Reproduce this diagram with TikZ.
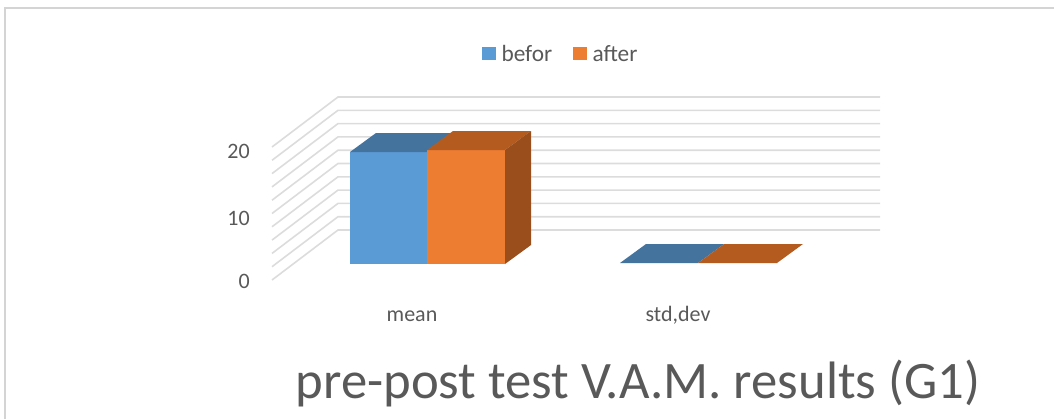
\documentclass[tikz,border=0pt]{standalone}
\usepackage{fontspec}
\setmainfont{Carlito}
\usetikzlibrary{positioning}

\definecolor{bluefront}{HTML}{5B9BD5}
\definecolor{bluetop}{HTML}{44739E}
\definecolor{orangefront}{HTML}{ED7D31}
\definecolor{orangetop}{HTML}{B45C20}
\definecolor{orangeside}{HTML}{994E1C}
\definecolor{gridgray}{HTML}{DCDCDC}
\definecolor{framegray}{HTML}{D4D4D4}
\definecolor{textgray}{HTML}{595959}

\begin{document}
\begin{tikzpicture}[
	x=0.75pt, y=-0.75pt,
	node distance=4pt,
	gridline/.style={draw=gridgray, line width=1.2pt},
	frameline/.style={draw=framegray, line width=1.6pt},
	ticklabel/.style={font=\fontsize{16.5}{19}\selectfont, text=textgray, anchor=east, inner sep=0pt},
	catlabel/.style={font=\fontsize{16.5}{19}\selectfont, text=textgray, anchor=base, inner sep=0pt},
	legendbox/.style={minimum size=10pt, inner sep=0pt},
	legendtext/.style={font=\fontsize{17.5}{20}\selectfont, text=textgray, inner sep=0pt},
	titletext/.style={font=\fontsize{39.5}{44}\selectfont, text=textgray, anchor=base, inner sep=0pt}
	]
	\useasboundingbox (0,0) rectangle (1054,419);
	
	% Frame
	\draw[frameline] (5,419) -- (5,8) -- (1054,8);
	
	% Grid (side wall and back wall)
	\foreach \k in {0,...,10}
		\draw[gridline] (272,{280-13.3*\k}) -- (338,{230-13.3*\k}) -- (880,{230-13.3*\k});
	
	% Bars: mean
	\fill[bluefront] (350,152) rectangle (427,264);
	\fill[bluetop] (350,152) -- (427,152) -- (453,133) -- (376,133) -- cycle;
	\fill[orangefront] (427,150) rectangle (505,264);
	\fill[orangetop] (427,150) -- (505,150) -- (531,131) -- (453,131) -- cycle;
	\fill[orangeside] (505,150) -- (531,131) -- (531,245) -- (505,264) -- cycle;
	
	% Bars: std,dev
	\fill[bluetop] (620,263) -- (698,263) -- (724,244) -- (646,244) -- cycle;
	\fill[orangetop] (698,263) -- (777,263) -- (803,244) -- (724,244) -- cycle;
	
	% Nodes
	\node (tick0) [ticklabel] at (250,281.5) {0};
	\node (tick10) [ticklabel] at (250,218) {10};
	\node (tick20) [ticklabel] at (250,151.5) {20};
	\node (mean) [catlabel] at (412,321) {mean};
	\node (stddev) [catlabel] at (678,321) {std,dev};
	
	\node (beforbox) [legendbox, fill=bluefront] at (489,53.5) {};
	\node (befortext) [legendtext, right=of beforbox] {befor};
	\node (afterbox) [legendbox, fill=orangefront] at (580,53.5) {};
	\node (aftertext) [legendtext, right=of afterbox] {after};
	
	\node (title) [titletext] at (638,398) {pre-post test V.A.M. results (G1)};
	
\end{tikzpicture}
\end{document}
